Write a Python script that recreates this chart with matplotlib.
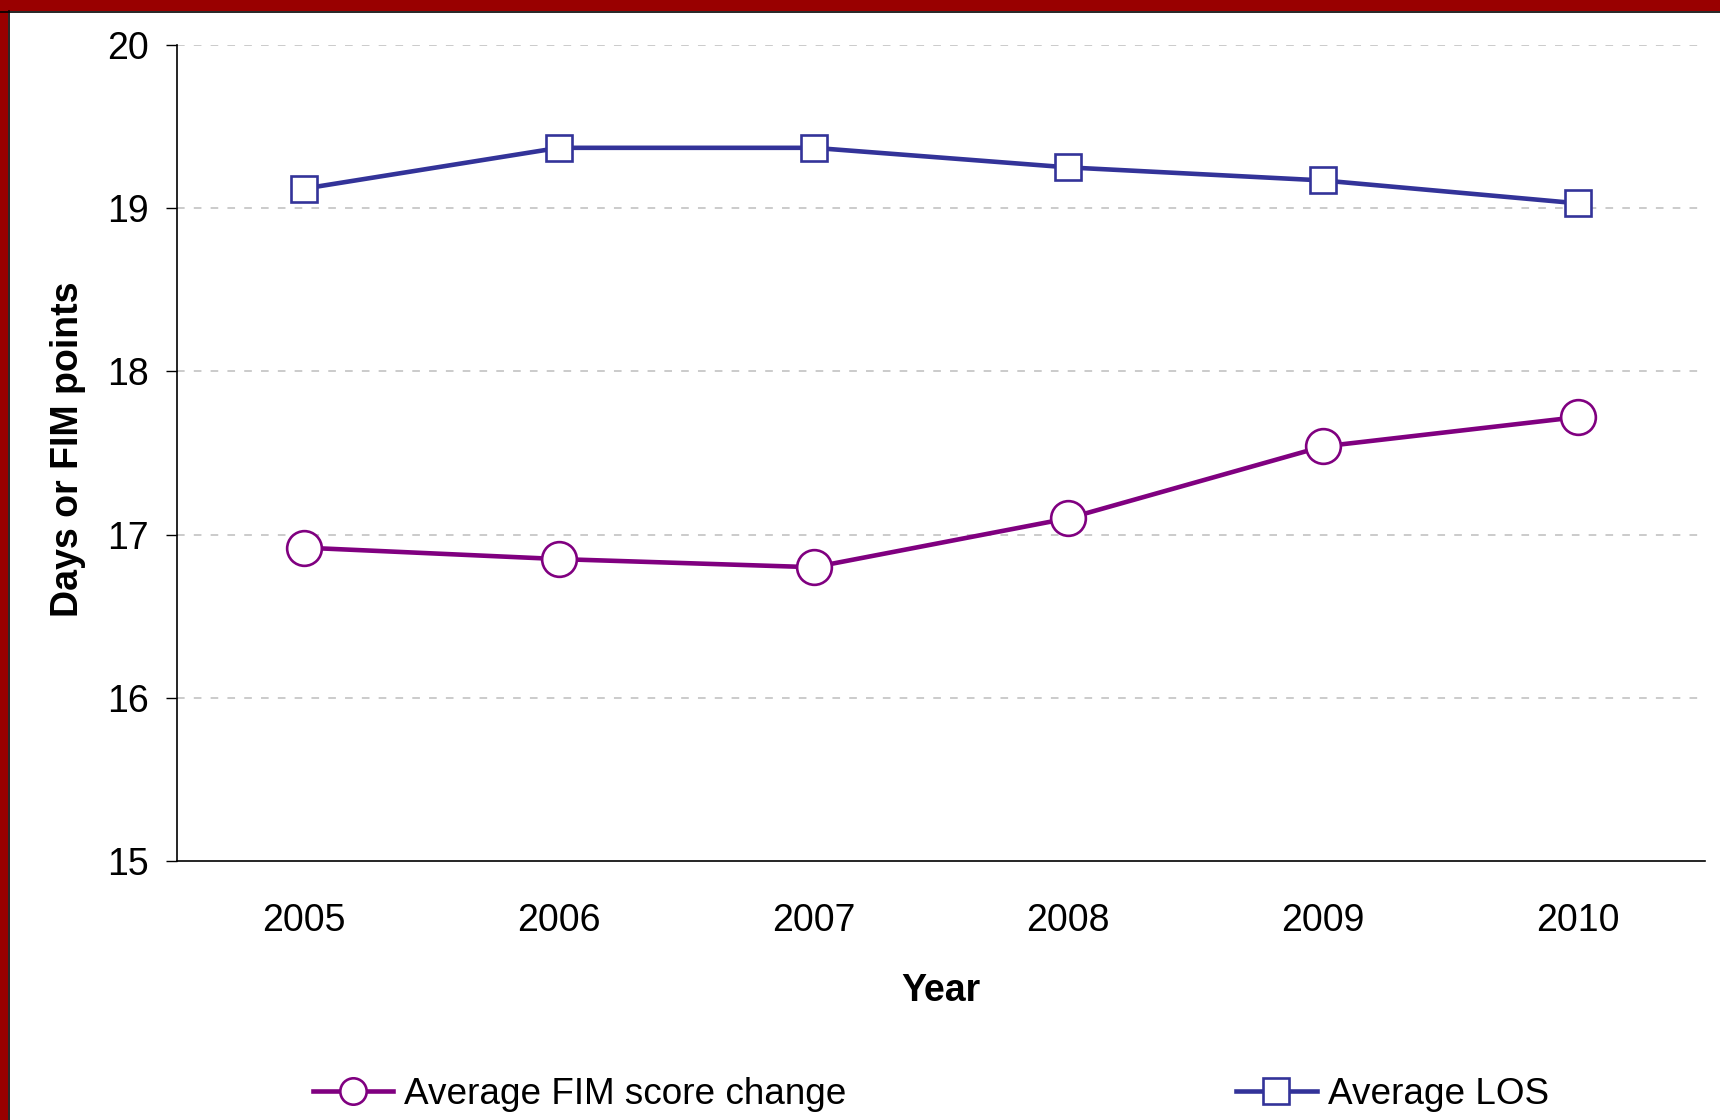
import matplotlib
matplotlib.use("Agg")
import matplotlib.pyplot as plt
from matplotlib.lines import Line2D
from matplotlib.patches import Rectangle

plt.rcParams['font.family'] = ['Liberation Sans', 'DejaVu Sans']

years = ["2005", "2006", "2007", "2008", "2009", "2010"]
fim_change = [16.92, 16.85, 16.80, 17.10, 17.54, 17.72]
avg_los = [19.12, 19.37, 19.37, 19.25, 19.17, 19.03]
y_ticks = [15, 16, 17, 18, 19, 20]

fim_color = "#800080"
los_color = "#333399"

W, H = 1720, 1120
fig = plt.figure(figsize=(W / 100, H / 100), dpi=100)
fig.patch.set_facecolor("white")

ax = fig.add_axes([177 / W, 1 - 861 / H, (1705 - 177) / W, (861 - 45) / H])

x = list(range(len(years)))
ax.plot(x, avg_los, color=los_color, lw=3.3, marker="s", markersize=18.5,
        markerfacecolor="white", markeredgecolor=los_color, markeredgewidth=1.9,
        zorder=3)
ax.plot(x, fim_change, color=fim_color, lw=3.3, marker="o", markersize=25,
        markerfacecolor="white", markeredgecolor=fim_color, markeredgewidth=1.9,
        zorder=3)

ax.set_xlim(-0.5, 5.5)
ax.set_ylim(15, 20)
ax.set_xticks(x)
ax.set_xticklabels(years)
ax.set_yticks(y_ticks)
ax.set_yticklabels([str(v) for v in y_ticks])

for s in ["top", "right"]:
    ax.spines[s].set_visible(False)
for s in ["left", "bottom"]:
    ax.spines[s].set_color("black")
    ax.spines[s].set_linewidth(1.2)

ax.tick_params(axis="y", direction="out", length=8, width=1.0, color="black",
               labelsize=27, pad=12)
ax.tick_params(axis="x", length=0, labelsize=27, pad=30)

for yv in y_ticks[1:]:
    ax.axhline(yv, color="#bdbdbd", lw=1.1, linestyle=(0, (5, 6)), zorder=1)

ax.set_xlabel("Year", fontsize=27, fontweight="bold", va="center")
ax.xaxis.set_label_coords(0.5, (861 - 991) / 816)
ax.set_ylabel("Days or FIM points", fontsize=27, fontweight="bold", va="center")
ax.yaxis.set_label_coords((68 - 177) / 1528, 0.505)

handles = [
    Line2D([], [], color=fim_color, lw=3.3, marker="o", markersize=19,
           markerfacecolor="white", markeredgecolor=fim_color, markeredgewidth=1.9),
    Line2D([], [], color=los_color, lw=3.3, marker="s", markersize=19,
           markerfacecolor="white", markeredgecolor=los_color, markeredgewidth=1.9),
]
fig.legend(handles, ["Average FIM score change", "Average LOS"],
           loc="center left", bbox_to_anchor=(313 / W, 1 - 1094 / H),
           ncol=2, frameon=False, borderpad=0, borderaxespad=0,
           fontsize=26.6, handlelength=2.17, handletextpad=0.3,
           columnspacing=10.55)

# decorative border (top and left)
fig.patches.append(Rectangle((0, 1 - 11 / H), 1, 11 / H, transform=fig.transFigure,
                             facecolor="#990000", edgecolor="none", zorder=10))
fig.patches.append(Rectangle((0, 0), 8 / W, 1, transform=fig.transFigure,
                             facecolor="#990000", edgecolor="none", zorder=10))
fig.lines.append(Line2D([0, 1], [1 - 11.5 / H, 1 - 11.5 / H], transform=fig.transFigure,
                        color="black", lw=1.2, zorder=11))
fig.lines.append(Line2D([9 / W, 9 / W], [0, 1 - 11 / H], transform=fig.transFigure,
                        color="black", lw=1.2, zorder=11))

fig.savefig("out.png", dpi=100)
